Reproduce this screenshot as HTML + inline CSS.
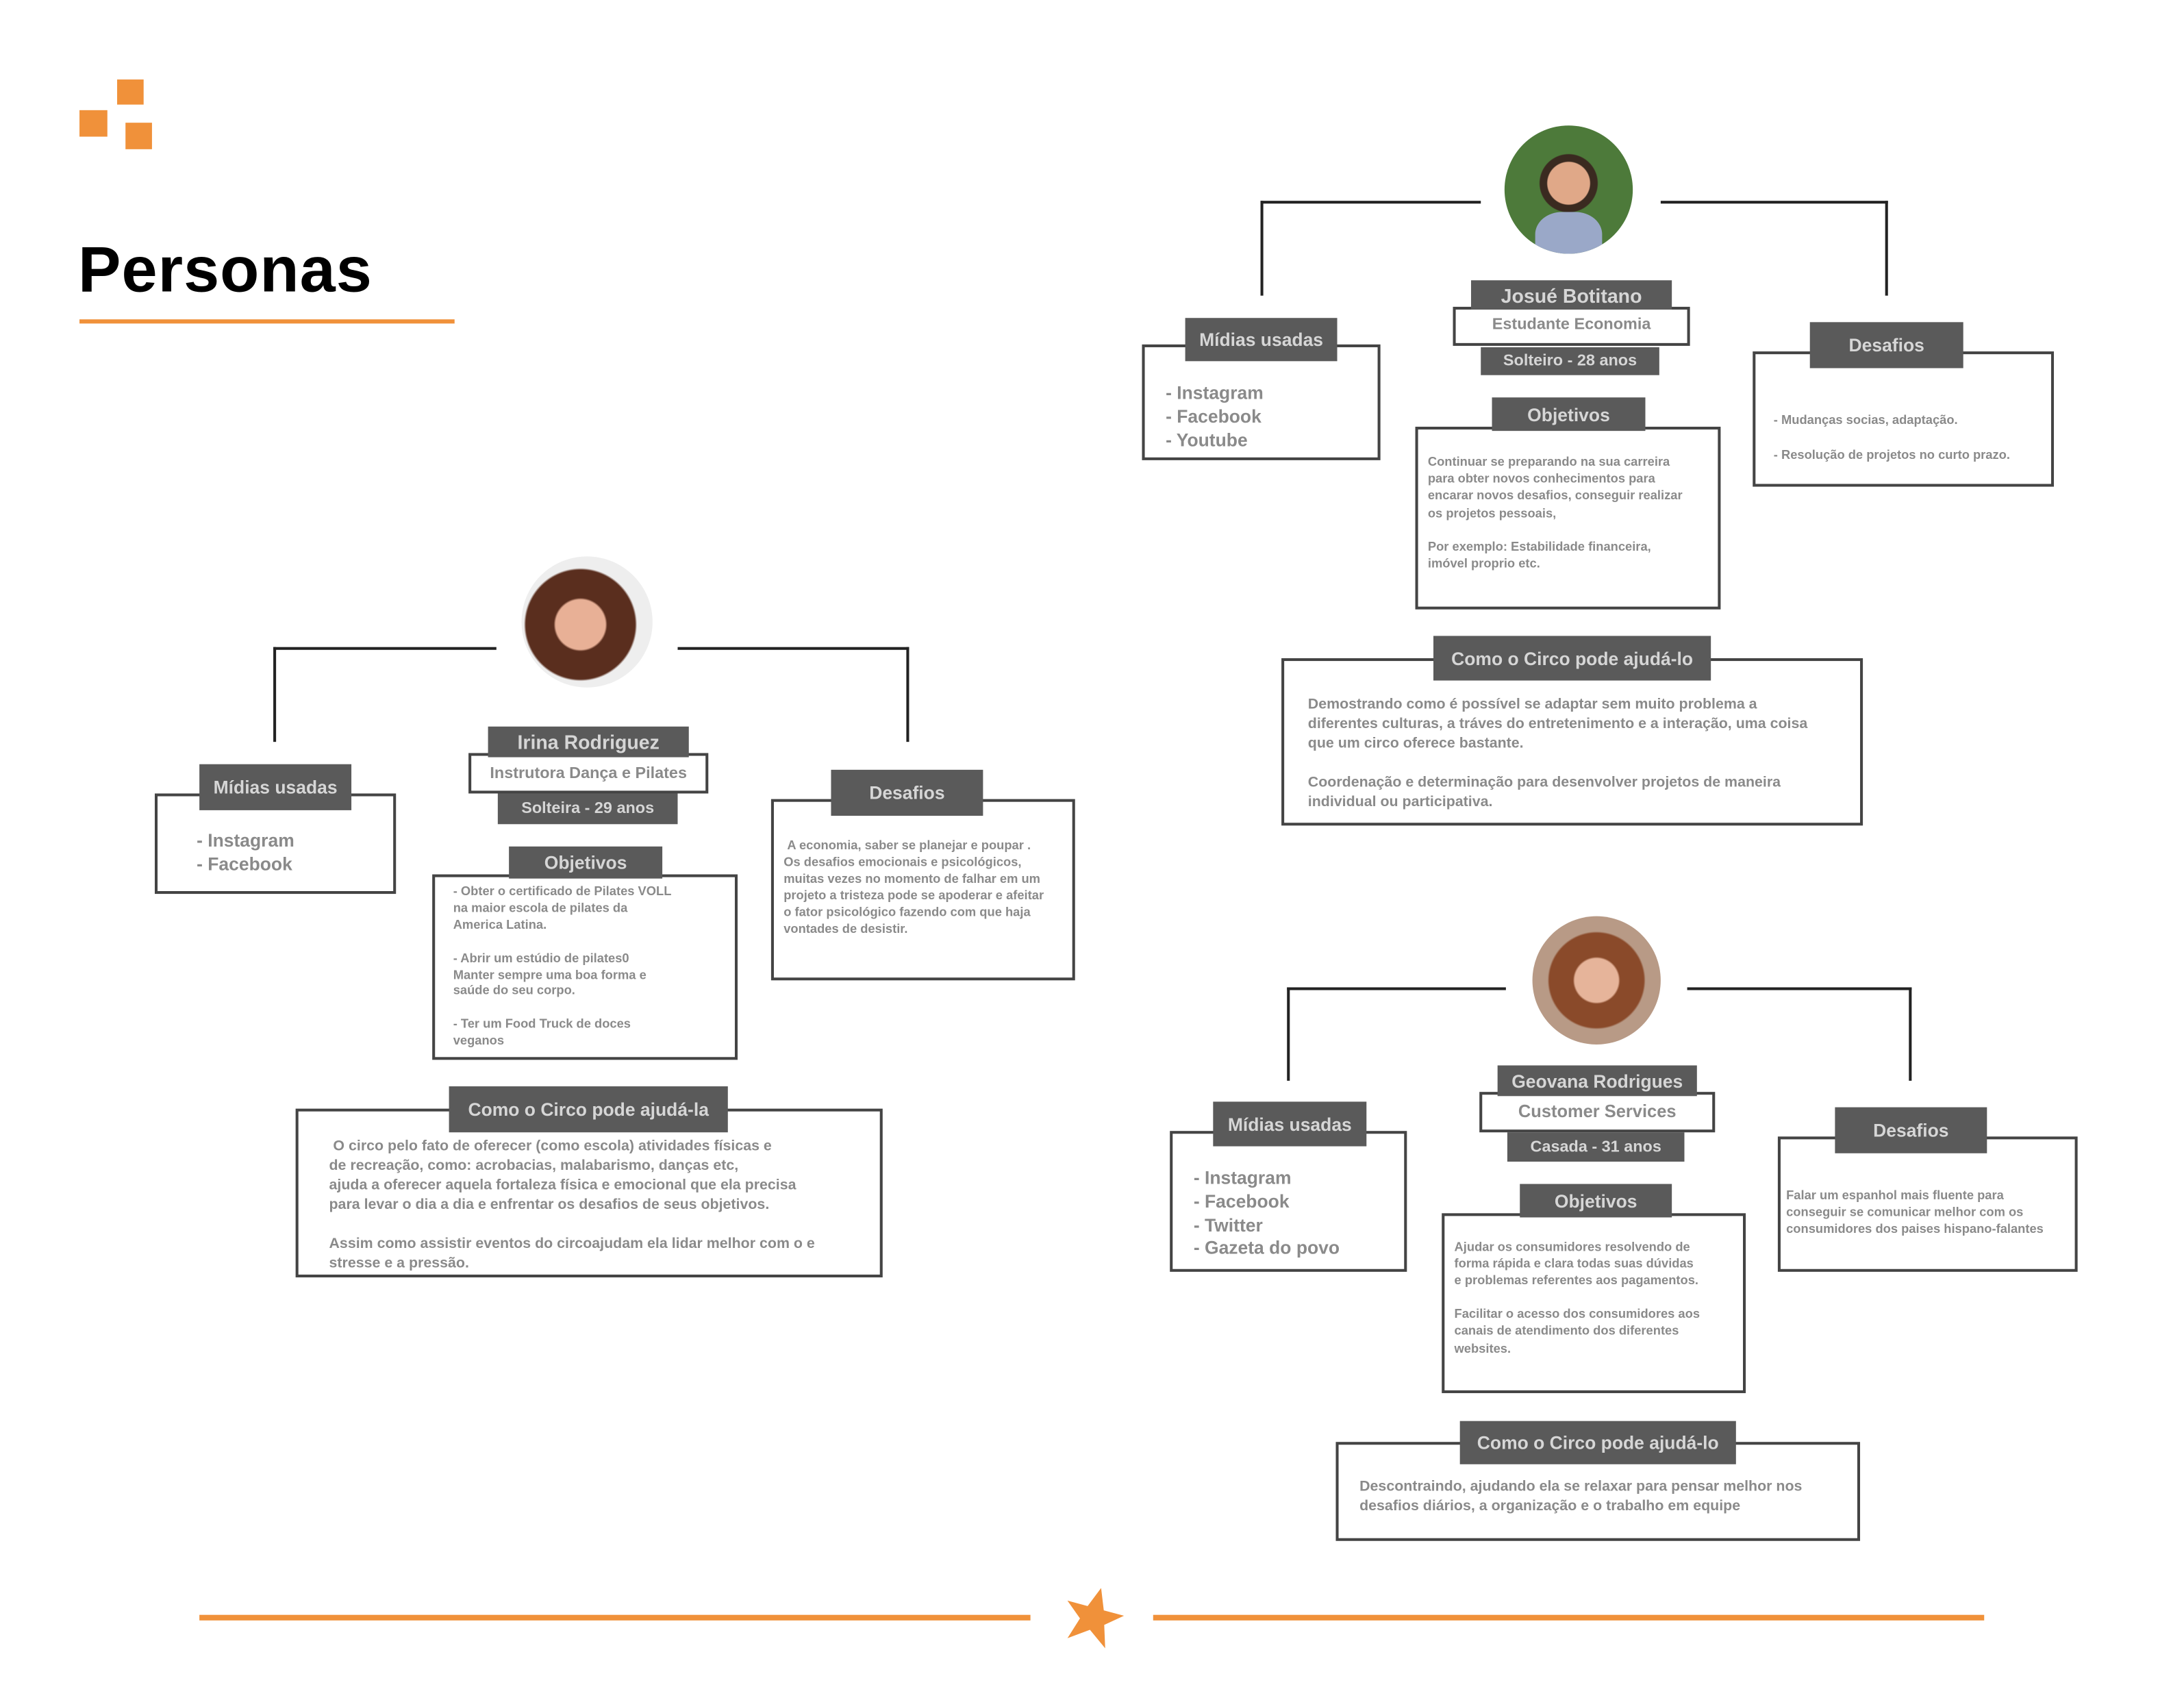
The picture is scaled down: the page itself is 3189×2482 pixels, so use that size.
<!DOCTYPE html>
<html><head><meta charset="utf-8"><style>
*{margin:0;padding:0;box-sizing:border-box}
html,body{width:3189px;height:2480px;background:#fff;overflow:hidden}
#c{position:absolute;left:0;top:0;width:1567px;height:1219px;transform:scale(2.036);transform-origin:0 0;font-family:"Liberation Sans Narrow","Liberation Sans",sans-serif;font-weight:bold}
.b{position:absolute;border:2px solid #444;background:#fff}
.t{position:absolute;background:#5a5a5a;color:#d6d6d6;display:flex;align-items:center;justify-content:center;font-size:13px;white-space:nowrap}
.x{position:absolute;color:#8a8a8a;white-space:nowrap}
.l{position:absolute;background:#222}
.o{position:absolute;background:#f0913a}
.p{position:absolute;border-radius:50%;overflow:hidden}
</style></head><body><div id="c">
<div class="o" style="left:84px;top:57px;width:19px;height:18px"></div>
<div class="o" style="left:57px;top:79px;width:20px;height:19px"></div>
<div class="o" style="left:90px;top:88px;width:19px;height:19px"></div>
<div style="position:absolute;left:56px;top:166px;font-family:'Liberation Sans',sans-serif;font-weight:bold;font-size:46px;color:#000;letter-spacing:0.5px">Personas</div>
<div class="o" style="left:57px;top:229px;width:269px;height:3px"></div>

<!-- Josué -->
<div class="l" style="left:904px;top:144px;width:158px;height:2px"></div>
<div class="l" style="left:904px;top:144px;width:2px;height:68px"></div>
<div class="l" style="left:1191px;top:144px;width:163px;height:2px"></div>
<div class="l" style="left:1352px;top:144px;width:2px;height:68px"></div>
<div class="p" style="left:1079px;top:90px;width:92px;height:92px;background:radial-gradient(circle at 50% 45%,#e0a888 0 22%,#3a2a20 23% 30%,#4d7a3a 31%)"><div style="position:absolute;left:22px;top:62px;width:48px;height:40px;background:#9aa8c8;border-radius:40% 40% 0 0"></div></div>
<div class="b" style="left:1042px;top:220px;width:170px;height:28px"></div>
<div class="x" style="left:1042px;top:227px;width:170px;text-align:center;font-size:11.5px">Estudante Economia</div>
<div class="t" style="left:1055px;top:201px;width:144px;height:21px;font-size:14px">Josué Botitano</div>
<div class="t" style="left:1062px;top:249px;width:128px;height:20px;font-size:11.5px">Solteiro - 28 anos</div>
<div class="b" style="left:819px;top:247px;width:171px;height:83px"></div>
<div class="t" style="left:850px;top:228px;width:109px;height:31px">Mídias usadas</div>
<div class="x" style="left:836px;top:273px;font-size:13px;line-height:17px">- Instagram<br>- Facebook<br>- Youtube</div>
<div class="b" style="left:1015px;top:306px;width:219px;height:131px"></div>
<div class="t" style="left:1070px;top:285px;width:110px;height:24px">Objetivos</div>
<div class="x" style="left:1024px;top:325px;font-size:9px;line-height:12.2px">Continuar se preparando na sua carreira<br>para obter novos conhecimentos para<br>encarar novos desafios, conseguir realizar<br>os projetos pessoais,<br><br>Por exemplo: Estabilidade financeira,<br>imóvel proprio etc.</div>
<div class="b" style="left:1257px;top:252px;width:216px;height:97px"></div>
<div class="t" style="left:1298px;top:231px;width:110px;height:33px">Desafios</div>
<div class="x" style="left:1272px;top:289px;font-size:9px;line-height:25px">- Mudanças socias, adaptação.<br>- Resolução de projetos no curto prazo.</div>
<div class="b" style="left:919px;top:472px;width:417px;height:120px"></div>
<div class="t" style="left:1028px;top:456px;width:199px;height:32px">Como o Circo pode ajudá-lo</div>
<div class="x" style="left:938px;top:498px;font-size:10.5px;line-height:14px">Demostrando como é possível se adaptar sem muito problema a<br>diferentes culturas, a tráves do entretenimento e a interação, uma coisa<br>que um circo oferece bastante.<br><br>Coordenação e determinação para desenvolver projetos de maneira<br>individual ou participativa.</div>

<!-- Irina -->
<div class="l" style="left:196px;top:464px;width:160px;height:2px"></div>
<div class="l" style="left:196px;top:464px;width:2px;height:68px"></div>
<div class="l" style="left:486px;top:464px;width:166px;height:2px"></div>
<div class="l" style="left:650px;top:464px;width:2px;height:68px"></div>
<div class="p" style="left:374px;top:399px;width:94px;height:94px;background:radial-gradient(circle at 45% 52%,#e8b096 0 25%,#5a2e1e 27% 55%,#eee 57%)"></div>
<div class="b" style="left:336px;top:540px;width:172px;height:29px"></div>
<div class="x" style="left:336px;top:549px;width:172px;text-align:center;font-size:11.5px">Instrutora Dança e Pilates</div>
<div class="t" style="left:350px;top:521px;width:144px;height:22px;font-size:14px">Irina Rodriguez</div>
<div class="t" style="left:357px;top:569px;width:129px;height:22px;font-size:11.5px">Solteira - 29 anos</div>
<div class="b" style="left:111px;top:569px;width:173px;height:72px"></div>
<div class="t" style="left:143px;top:548px;width:109px;height:33px">Mídias usadas</div>
<div class="x" style="left:141px;top:594px;font-size:13px;line-height:17px">- Instagram<br>- Facebook</div>
<div class="b" style="left:310px;top:627px;width:219px;height:133px"></div>
<div class="t" style="left:365px;top:607px;width:110px;height:23px">Objetivos</div>
<div class="x" style="left:325px;top:634px;font-size:9px;line-height:11.9px">- Obter o certificado de Pilates VOLL<br>na maior escola de pilates da<br>America Latina.<br><br>- Abrir um estúdio de pilates0<br>Manter sempre uma boa forma e<br>saúde do seu corpo.<br><br>- Ter um Food Truck de doces<br>veganos</div>
<div class="b" style="left:553px;top:573px;width:218px;height:130px"></div>
<div class="t" style="left:596px;top:552px;width:109px;height:33px">Desafios</div>
<div class="x" style="left:562px;top:600px;font-size:9px;line-height:12px">&nbsp;A economia, saber se planejar e poupar .<br>Os desafios emocionais e psicológicos,<br>muitas vezes no momento de falhar em um<br>projeto a tristeza pode se apoderar e afeitar<br>o fator psicológico fazendo com que haja<br>vontades de desistir.</div>
<div class="b" style="left:212px;top:795px;width:421px;height:121px"></div>
<div class="t" style="left:322px;top:779px;width:200px;height:33px">Como o Circo pode ajudá-la</div>
<div class="x" style="left:236px;top:815px;font-size:10.5px;line-height:14px">&nbsp;O circo pelo fato de oferecer (como escola) atividades físicas e<br>de recreação, como: acrobacias, malabarismo, danças etc,<br>ajuda a oferecer aquela fortaleza física e emocional que ela precisa<br>para levar o dia a dia e enfrentar os desafios de seus objetivos.<br><br>Assim como assistir eventos do circoajudam ela lidar melhor com o e<br>stresse e a pressão.</div>

<!-- Geovana -->
<div class="l" style="left:923px;top:708px;width:157px;height:2px"></div>
<div class="l" style="left:923px;top:708px;width:2px;height:67px"></div>
<div class="l" style="left:1210px;top:708px;width:161px;height:2px"></div>
<div class="l" style="left:1369px;top:708px;width:2px;height:67px"></div>
<div class="p" style="left:1099px;top:657px;width:92px;height:92px;background:radial-gradient(circle at 50% 50%,#e6b49a 0 24%,#8a4a2a 26% 52%,#b89a86 54%)"></div>
<div class="b" style="left:1061px;top:783px;width:169px;height:29px"></div>
<div class="x" style="left:1061px;top:790px;width:169px;text-align:center;font-size:12.5px">Customer Services</div>
<div class="t" style="left:1074px;top:764px;width:143px;height:22px;font-size:13px">Geovana Rodrigues</div>
<div class="t" style="left:1081px;top:812px;width:127px;height:21px;font-size:11.5px">Casada - 31 anos</div>
<div class="b" style="left:839px;top:811px;width:170px;height:101px"></div>
<div class="t" style="left:870px;top:790px;width:110px;height:32px">Mídias usadas</div>
<div class="x" style="left:856px;top:837px;font-size:13px;line-height:16.8px">- Instagram<br>- Facebook<br>- Twitter<br>- Gazeta do povo</div>
<div class="b" style="left:1034px;top:870px;width:218px;height:129px"></div>
<div class="t" style="left:1090px;top:849px;width:109px;height:24px">Objetivos</div>
<div class="x" style="left:1043px;top:888px;font-size:9px;line-height:12.1px">Ajudar os consumidores resolvendo de<br>forma rápida e clara todas suas dúvidas<br>e problemas referentes aos pagamentos.<br><br>Facilitar o acesso dos consumidores aos<br>canais de atendimento dos diferentes<br>websites.</div>
<div class="b" style="left:1275px;top:815px;width:215px;height:97px"></div>
<div class="t" style="left:1316px;top:794px;width:109px;height:33px">Desafios</div>
<div class="x" style="left:1281px;top:851px;font-size:9px;line-height:12px">Falar um espanhol mais fluente para<br>conseguir se comunicar melhor com os<br>consumidores dos paises hispano-falantes</div>
<div class="b" style="left:958px;top:1034px;width:376px;height:71px"></div>
<div class="t" style="left:1047px;top:1019px;width:198px;height:31px">Como o Circo pode ajudá-lo</div>
<div class="x" style="left:975px;top:1059px;font-size:10.5px;line-height:14px">Descontraindo, ajudando ela se relaxar para pensar melhor nos<br>desafios diários, a organização e o trabalho em equipe</div>

<!-- footer -->
<div class="o" style="left:143px;top:1158px;width:596px;height:4px"></div>
<div class="o" style="left:827px;top:1158px;width:596px;height:4px"></div>
<svg style="position:absolute;left:760px;top:1136px" width="48" height="48" viewBox="-24 -24 48 48"><polygon transform="rotate(15)" fill="#f0913a" points="0,-22 6,-7 21,-7 9,3 14,19 0,9 -14,19 -9,3 -21,-7 -6,-7"/></svg>
</div></body></html>
